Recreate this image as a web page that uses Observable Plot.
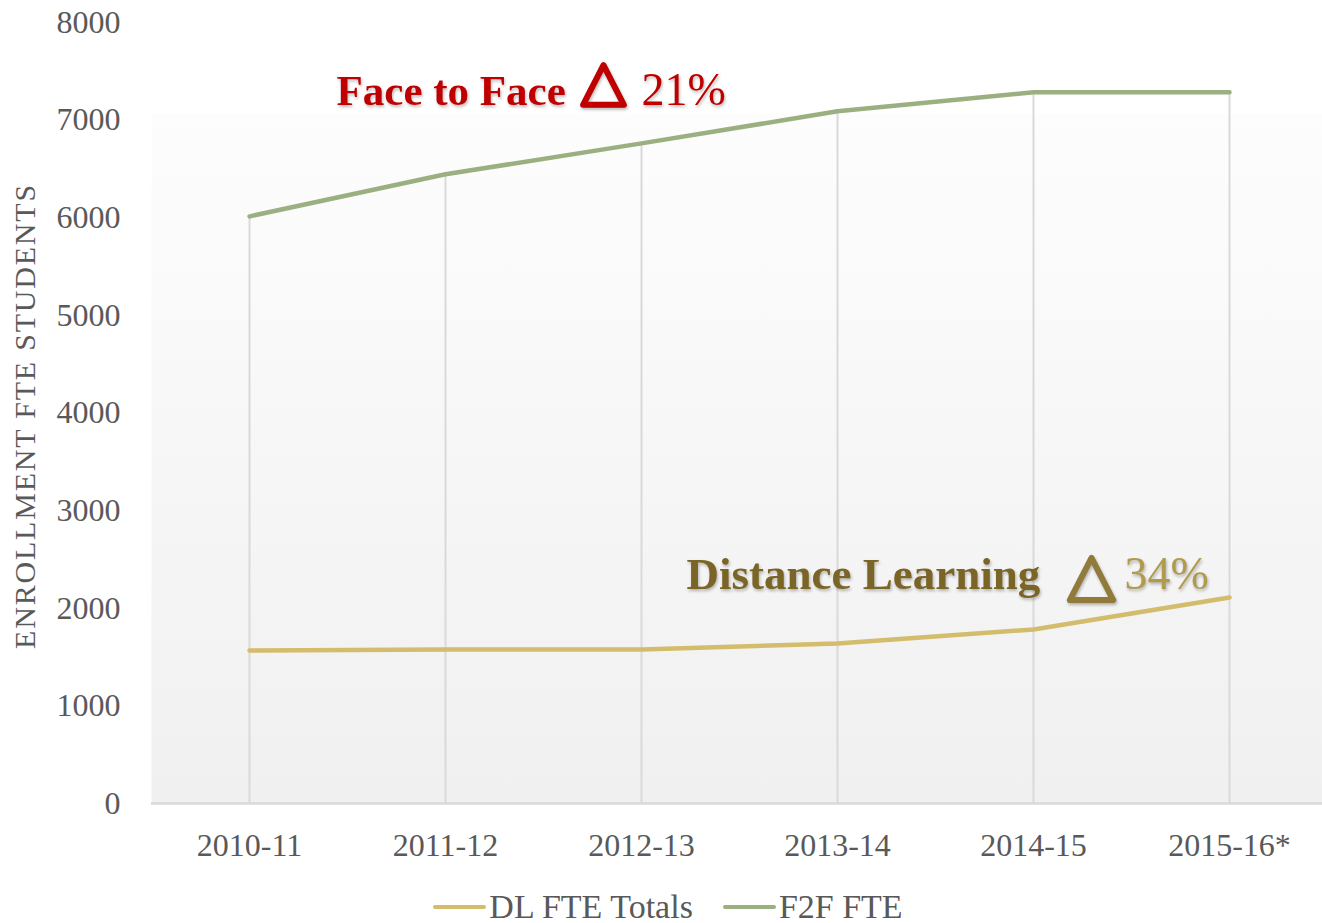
<!DOCTYPE html>
<html>
<head>
<meta charset="utf-8">
<script src="https://cdn.jsdelivr.net/npm/d3@7"></script>
<script src="https://cdn.jsdelivr.net/npm/@observablehq/plot@0.6"></script>
<style>
  html, body { margin: 0; padding: 0; background: #ffffff; }
  #chart { width: 1322px; }
  .anno { filter: drop-shadow(1px 2px 1.5px rgba(0,0,0,0.28)); }
  .legend { display: flex; justify-content: center; align-items: center; gap: 30px;
    font-family: "Palatino Linotype", "Book Antiqua", Palatino, "Liberation Serif", serif;
    font-size: 34px; color: #595959; height: 54px; padding-left: 14px; box-sizing: border-box; width: 1322px; }
  .legend .item { display: flex; align-items: center; }
  .legend .sw { display: inline-block; width: 53px; height: 4px; border-radius: 2px; margin-right: 3px; }
</style>
</head>
<body>
<div id="chart"></div>
<script>
// ---- data ----
const categories = ["2010-11", "2011-12", "2012-13", "2013-14", "2014-15", "2015-16*"];
const dlValues  = [1568, 1578, 1578, 1639, 1783, 2111];
const f2fValues = [6014, 6445, 6762, 7090, 7285, 7285];
const yTicks = [0, 1000, 2000, 3000, 4000, 5000, 6000, 7000, 8000];
const seriesNames = ["DL FTE Totals", "F2F FTE"];
const seriesColors = ["#d3bc6b", "#9bb080"];
const yTitle = "ENROLLMENT FTE STUDENTS";
const annoLabels = ["Face to Face", "Distance Learning"];
const annoPct = ["21%", "34%"];

// ---- derived tables ----
const idx = categories.map((c, i) => i);
const dlData = idx.map(i => ({i, v: dlValues[i]}));
const f2fData = idx.map(i => ({i, v: f2fValues[i]}));

const serif = '"Palatino Linotype", "Book Antiqua", Palatino, "Liberation Serif", serif';
const bgPlaceholder = "#f5f5f4";

const triSymbol = {
  draw(ctx, size) {
    const w = Math.sqrt(size);
    const h = w * 0.97;
    ctx.moveTo(0, -h / 2);
    ctx.lineTo(w / 2, h / 2);
    ctx.lineTo(-w / 2, h / 2);
    ctx.closePath();
  }
};

const chart = Plot.plot({
  width: 1322,
  height: 880,
  marginLeft: 151,
  marginRight: 0,
  marginTop: 22,
  marginBottom: 77,
  style: {fontFamily: serif, fontSize: "32px", color: "#595959", background: "transparent", overflow: "visible"},
  x: {type: "linear", domain: [-0.5, 5.5], range: [151, 1327]},
  y: {domain: [0, 8000], range: [803, 22]},
  marks: [
    Plot.frame({fill: bgPlaceholder, stroke: null, insetTop: 91}),
    Plot.ruleX(f2fData, {x: "i", y1: 0, y2: "v", stroke: "#d9d9d9", strokeWidth: 2}),
    Plot.ruleY([0], {stroke: "#d9d9d9", strokeWidth: 2.5}),
    Plot.axisY({ticks: yTicks, tickSize: 0, tickPadding: 31, fontSize: 32, fill: "#595959", label: null, tickFormat: d => String(d)}),
    Plot.axisX({ticks: idx, tickSize: 0, tickPadding: 30, fontSize: 32, fill: "#595959", label: null, tickFormat: i => categories[i]}),
    Plot.text([yTitle], {text: d => d, frameAnchor: "left", textAnchor: "middle", rotate: -90, dx: -126, dy: 3, fontSize: 30, fill: "#595959", lineAnchor: "middle"}),
    Plot.line(dlData, {x: "i", y: "v", stroke: seriesColors[0], strokeWidth: 4.5, strokeLinecap: "round", strokeLinejoin: "round"}),
    Plot.line(f2fData, {x: "i", y: "v", stroke: seriesColors[1], strokeWidth: 4.5, strokeLinecap: "round", strokeLinejoin: "round"}),
    // annotations
    Plot.text([annoLabels[0]], {text: d => d, x: 0.444, y: 7150, textAnchor: "start", lineAnchor: "bottom", fontSize: 43, fontWeight: "bold", fill: "#c00000"}),
    Plot.dot([0], {x: 1.806, y: 7360, r: 23, symbol: triSymbol, stroke: "#c00000", strokeWidth: 6, strokeLinejoin: "round", fill: "none"}),
    Plot.text([annoPct[0]], {text: d => d, x: 2.0, y: 7150, textAnchor: "start", lineAnchor: "bottom", fontSize: 46, fill: "#c00000"}),
    Plot.text([annoLabels[1]], {text: d => d, x: 2.23, y: 2200, textAnchor: "start", lineAnchor: "bottom", fontSize: 45, fontWeight: "bold", fill: "#7a6526"}),
    Plot.dot([0], {x: 4.296, y: 2300, r: 24.5, symbol: triSymbol, stroke: "#917b3a", strokeWidth: 6, strokeLinejoin: "round", fill: "none"}),
    Plot.text([annoPct[1]], {text: d => d, x: 4.464, y: 2200, textAnchor: "start", lineAnchor: "bottom", fontSize: 46, fill: "#b09a4c"})
  ]
});

// background gradient for the plot area
const ns = "http://www.w3.org/2000/svg";
const defs = document.createElementNS(ns, "defs");
const grad = document.createElementNS(ns, "linearGradient");
grad.setAttribute("id", "bggrad");
grad.setAttribute("x1", "0"); grad.setAttribute("y1", "0");
grad.setAttribute("x2", "0"); grad.setAttribute("y2", "1");
[["0", "#fdfdfd"], ["1", "#f0f0f0"]].forEach(([o, c]) => {
  const s = document.createElementNS(ns, "stop");
  s.setAttribute("offset", o); s.setAttribute("stop-color", c);
  grad.appendChild(s);
});
defs.appendChild(grad);
chart.insertBefore(defs, chart.firstChild);
chart.querySelectorAll("[fill]").forEach(el => {
  if (el.getAttribute("fill") === bgPlaceholder) el.setAttribute("fill", "url(#bggrad)");
});

// axis title letter spacing, annotation shadows
const annoTexts = new Set([...annoLabels, ...annoPct]);
chart.querySelectorAll("text").forEach(t => {
  const s = t.textContent;
  if (s === yTitle) t.style.letterSpacing = "1.8px";
  if (annoTexts.has(s)) t.classList.add("anno");
});
chart.querySelectorAll("path").forEach(p => {
  const st = p.getAttribute("stroke") || (p.parentNode && p.parentNode.getAttribute && p.parentNode.getAttribute("stroke"));
  if (p.getAttribute("d") && (st === "#c00000" || st === "#917b3a")) p.classList.add("anno");
});

document.getElementById("chart").appendChild(chart);

// legend
const legend = document.createElement("div");
legend.className = "legend";
seriesNames.forEach((name, k) => {
  const item = document.createElement("div");
  item.className = "item";
  const sw = document.createElement("span");
  sw.className = "sw";
  sw.style.background = seriesColors[k];
  const t = document.createElement("span");
  t.textContent = name;
  item.appendChild(sw); item.appendChild(t);
  legend.appendChild(item);
});
document.getElementById("chart").appendChild(legend);
</script>
</body>
</html>
